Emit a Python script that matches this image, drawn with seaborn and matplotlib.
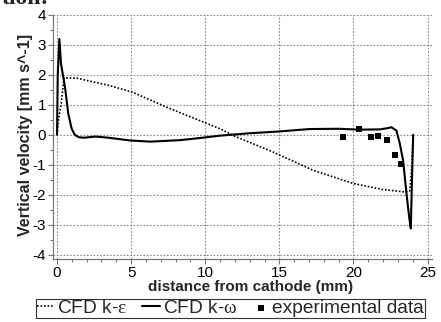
import numpy as np
import pandas as pd
import matplotlib
matplotlib.use("Agg")
import matplotlib.pyplot as plt
from matplotlib.ticker import MultipleLocator
import seaborn as sns

# ---- data ----
ke_x = [0, 0.1, 0.31, 0.47, 1.33, 3.57, 5.1, 7.4, 9.5, 11, 12, 14.5, 15.7, 17.3, 20, 22, 23.47, 23.8, 23.95, 24.03]
ke_y = [0, 0.5, 1.14, 1.9, 1.89, 1.64, 1.42, 0.92, 0.5, 0.2, -0.05, -0.56, -0.83, -1.19, -1.63, -1.83, -1.91, -1.88, -1.0, 0.0]

kw_x = [0, 0.05, 0.16, 0.27, 0.54, 0.76, 0.99, 1.2, 1.45, 1.8, 2.6, 3.5, 4.9, 6.3, 8.3, 9.8, 11, 13, 15, 17,
        19, 20.4, 21.8, 22.3, 22.56, 22.9, 23.13, 23.35, 23.58, 23.76, 23.87, 23.95, 24.03]
kw_y = [0, 2.0, 3.2, 2.37, 1.59, 0.7, 0.2, 0.0, -0.08, -0.1, -0.06, -0.1, -0.19, -0.23, -0.18, -0.1, -0.03, 0.05, 0.11, 0.19,
        0.2, 0.17, 0.18, 0.22, 0.25, 0.14, -0.3, -0.86, -1.97, -2.75, -3.13, -1.5, 0.0]

exp_x = [19.29, 20.36, 21.17, 21.69, 22.27, 22.79, 23.22]
exp_y = [-0.06, 0.18, -0.08, -0.03, -0.19, -0.68, -0.99]

x_ticks = [0, 5, 10, 15, 20, 25]
y_ticks = [-4, -3, -2, -1, 0, 1, 2, 3, 4]

label_ke = r"CFD k-$\varepsilon$"
label_kw = r"CFD k-$\omega$"
label_exp = "experimental data"
xlabel = "distance from cathode (mm)"
ylabel = "Vertical velocity [mm s^-1]"

# ---- style ----
sns.set_theme(style="white")
plt.rcParams["font.family"] = ["Liberation Sans", "DejaVu Sans"]
plt.rcParams["mathtext.fontset"] = "custom"
plt.rcParams["mathtext.rm"] = "Liberation Serif"
plt.rcParams["mathtext.it"] = "Liberation Serif"
plt.rcParams["axes.unicode_minus"] = False

df_ke = pd.DataFrame({"x": ke_x, "y": ke_y})
df_kw = pd.DataFrame({"x": kw_x, "y": kw_y})
df_exp = pd.DataFrame({"x": exp_x, "y": exp_y})

fig = plt.figure(figsize=(4.41, 3.22), dpi=100)
ax = fig.add_axes([53 / 441, 1 - 259 / 322, (432 - 53) / 441, (259 - 15) / 322])

sns.lineplot(data=df_ke, x="x", y="y", sort=False, ax=ax, color="black",
             linestyle=(0, (1, 1.1)), linewidth=1.2, label=label_ke)
sns.lineplot(data=df_kw, x="x", y="y", sort=False, ax=ax, color="black",
             linewidth=1.5, label=label_kw)
sns.scatterplot(data=df_exp, x="x", y="y", ax=ax, color="black", marker="s",
                s=24, edgecolor="black", linewidth=0, label=label_exp, zorder=5)

ax.set_xlim(-0.27, 25.3)
ax.set_ylim(-4.15, 4.0)
ax.set_xticks(x_ticks)
ax.set_yticks(y_ticks)
ax.xaxis.set_minor_locator(MultipleLocator(1))
ax.yaxis.set_minor_locator(MultipleLocator(0.5))
ax.grid(True, which="major", color="#888888", linestyle=(0, (1.5, 1.5)), linewidth=0.8)
ax.set_axisbelow(True)
for s in ["top", "right"]:
    ax.spines[s].set_visible(False)
for s in ["left", "bottom"]:
    ax.spines[s].set_color("#777777")
    ax.spines[s].set_linewidth(0.9)
ax.tick_params(axis="both", which="major", direction="out", length=3.5, width=0.8,
               color="#777777", labelsize=11, pad=1.5, labelcolor="black")
ax.tick_params(axis="both", which="minor", direction="out", length=2.2, width=0.8,
               color="#777777")
ax.tick_params(axis="x", which="both", bottom=True)
ax.tick_params(axis="y", which="both", left=True)

ax.set_xlabel(xlabel, fontsize=11, fontweight="bold")
ax.set_ylabel(ylabel, fontsize=11.5, fontweight="bold")
ax.xaxis.set_label_coords(0.522, -0.088)
ax.yaxis.set_label_coords(-0.053, 0.51)

ax.get_legend().remove()
handles, labels = ax.get_legend_handles_labels()
leg = fig.legend(handles, labels, loc="lower left", bbox_to_anchor=(36 / 441, 4 / 322),
                 ncol=3, frameon=True, fancybox=False, fontsize=13.8,
                 handlelength=0.9, handletextpad=0.15, columnspacing=0.8,
                 borderpad=0.05, borderaxespad=0.0, markerscale=0.8)
leg.get_frame().set_edgecolor("black")
leg.get_frame().set_linewidth(0.8)

fig.text(2 / 441, 1 - 4 / 322, "tion:", fontsize=17, fontweight="bold",
         family="Liberation Serif", va="baseline", ha="left")

fig.savefig("out.png", dpi=100)
